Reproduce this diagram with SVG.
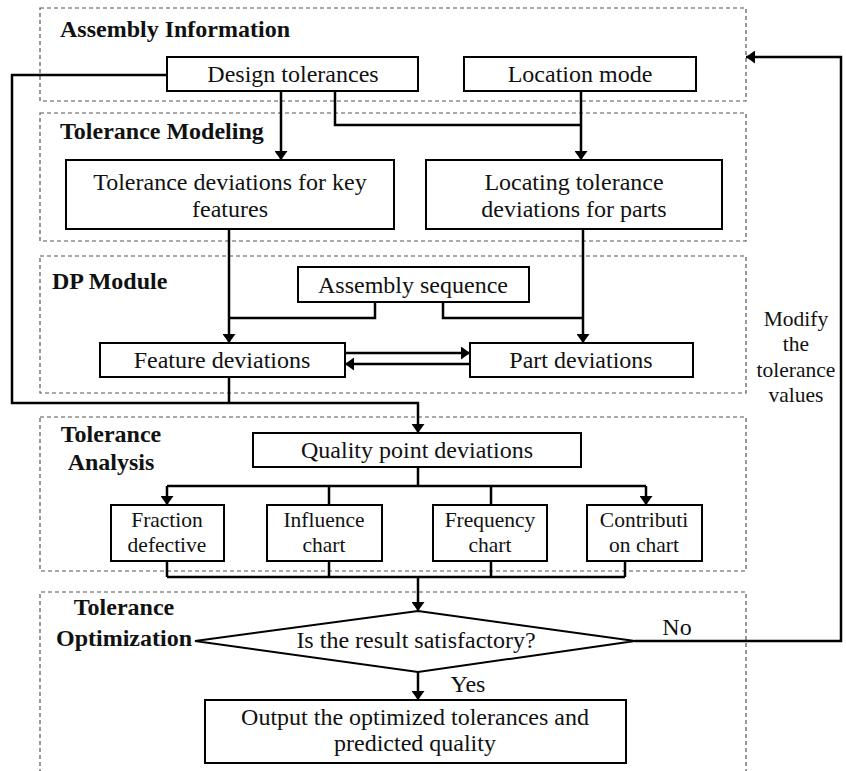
<svg xmlns="http://www.w3.org/2000/svg" width="846" height="771" viewBox="0 0 846 771" font-family="'Liberation Serif', 'Times New Roman', 'DejaVu Serif', serif">
<defs>
<style>
text{font-family:'Liberation Serif','Times New Roman','DejaVu Serif',serif;fill:#111}
.zone{fill:none;stroke:#555;stroke-width:1.2;stroke-dasharray:4 3}
.box{fill:#fff;stroke:#000;stroke-width:2}
.t{font-size:24px;text-anchor:middle}
.s{font-size:21.5px}
.title{font-size:24px;font-weight:bold}
.c{fill:none;stroke:#000;stroke-width:2.5}
.a{marker-end:url(#ah)}
</style>
<marker id="ah" viewBox="0 0 9 13" refX="9" refY="6.5" markerWidth="9" markerHeight="13" markerUnits="userSpaceOnUse" orient="auto">
<path d="M0,0 L9,6.5 L0,13 z" fill="#000"/>
</marker>
</defs>
<rect width="846" height="771" fill="#fff"/>

<g id="zones">
<rect class="zone" x="40" y="8" width="706" height="93"/>
<rect class="zone" x="40" y="113" width="706" height="128"/>
<rect class="zone" x="40" y="256" width="706" height="137"/>
<rect class="zone" x="40" y="417" width="706" height="154"/>
<path class="zone" d="M40,780 L40,592 L746,592 L746,780"/>
<text class="title" x="60" y="37">Assembly Information</text>
<text class="title" x="60" y="139">Tolerance Modeling</text>
<text class="title" x="52" y="289">DP Module</text>
<text class="title" x="111" y="442" text-anchor="middle">Tolerance</text>
<text class="title" x="111" y="470" text-anchor="middle">Analysis</text>
<text class="title" x="124" y="615" text-anchor="middle">Tolerance</text>
<text class="title" x="124" y="646" text-anchor="middle">Optimization</text>
</g>

<g id="connectors">
<path class="c a" d="M281,91 L281,160"/>
<path class="c" d="M335,91 L335,125 L581,125"/>
<path class="c a" d="M581,91 L581,160"/>
<path class="c a" d="M167,75 L12,75 L12,403 L418,403 L418,433"/>
<path class="c a" d="M229,229 L229,343"/>
<path class="c" d="M375,302 L375,318 L229,318"/>
<path class="c" d="M443,302 L443,318 L583,318"/>
<path class="c a" d="M583,229 L583,343"/>
<path class="c a" d="M345,353 L470,353"/>
<path class="c a" d="M470,364 L345,364"/>
<path class="c" d="M229,377 L229,403"/>
<path class="c" d="M418,467 L418,486 M167,486 L646,486 M329,486 L329,505 M491,486 L491,505"/>
<path class="c a" d="M167,486 L167,505"/>
<path class="c a" d="M646,486 L646,505"/>
<path class="c" d="M167,561 L167,577 M329,561 L329,577 M491,561 L491,577 M625,561 L625,577 M167,577 L625,577"/>
<path class="c a" d="M418,577 L418,611"/>
<path class="c a" d="M418,672 L418,700"/>
<path class="c a" d="M635,641 L841,641 L841,57 L746,57"/>
<text class="t" x="677" y="635">No</text>
<text class="t" x="468" y="692">Yes</text>
<text class="t s" x="796" y="326">Modify</text>
<text class="t s" x="796" y="351">the</text>
<text class="t s" x="796" y="377">tolerance</text>
<text class="t s" x="796" y="402">values</text>
</g>

<g id="design-tolerances">
<rect class="box" x="167" y="57" width="251" height="34"/>
<text class="t" x="293" y="82">Design tolerances</text>
</g>
<g id="location-mode">
<rect class="box" x="464" y="57" width="232" height="34"/>
<text class="t" x="580" y="82">Location mode</text>
</g>
<g id="tolerance-deviations">
<rect class="box" x="66" y="160" width="328" height="69"/>
<text class="t" x="230" y="190">Tolerance deviations for key</text>
<text class="t" x="230" y="217">features</text>
</g>
<g id="locating-deviations">
<rect class="box" x="426" y="160" width="296" height="69"/>
<text class="t" x="574" y="190">Locating tolerance</text>
<text class="t" x="574" y="217">deviations for parts</text>
</g>
<g id="assembly-sequence">
<rect class="box" x="298" y="267" width="231" height="35"/>
<text class="t" x="413" y="293">Assembly sequence</text>
</g>
<g id="feature-deviations">
<rect class="box" x="100" y="343" width="245" height="34"/>
<text class="t" x="222" y="368">Feature deviations</text>
</g>
<g id="part-deviations">
<rect class="box" x="470" y="343" width="223" height="34"/>
<text class="t" x="581" y="368">Part deviations</text>
</g>
<g id="quality-point-deviations">
<rect class="box" x="253" y="433" width="328" height="34"/>
<text class="t" x="417" y="458">Quality point deviations</text>
</g>
<g id="fraction-defective">
<rect class="box" x="111" y="505" width="113" height="56"/>
<text class="t s" x="167" y="527">Fraction</text>
<text class="t s" x="167" y="552">defective</text>
</g>
<g id="influence-chart">
<rect class="box" x="267" y="505" width="115" height="56"/>
<text class="t s" x="324" y="527">Influence</text>
<text class="t s" x="324" y="552">chart</text>
</g>
<g id="frequency-chart">
<rect class="box" x="433" y="505" width="114" height="56"/>
<text class="t s" x="490" y="527">Frequency</text>
<text class="t s" x="490" y="552">chart</text>
</g>
<g id="contribution-chart">
<rect class="box" x="587" y="505" width="115" height="56"/>
<text class="t s" x="644" y="527">Contributi</text>
<text class="t s" x="644" y="552">on chart</text>
</g>
<g id="decision">
<polygon class="box" points="195,641 418,611 635,641 418,672"/>
<text class="t" x="416" y="648">Is the result satisfactory?</text>
</g>
<g id="output">
<rect class="box" x="205" y="700" width="421" height="63"/>
<text class="t" x="415" y="725">Output the optimized tolerances and</text>
<text class="t" x="415" y="751">predicted quality</text>
</g>
</svg>
